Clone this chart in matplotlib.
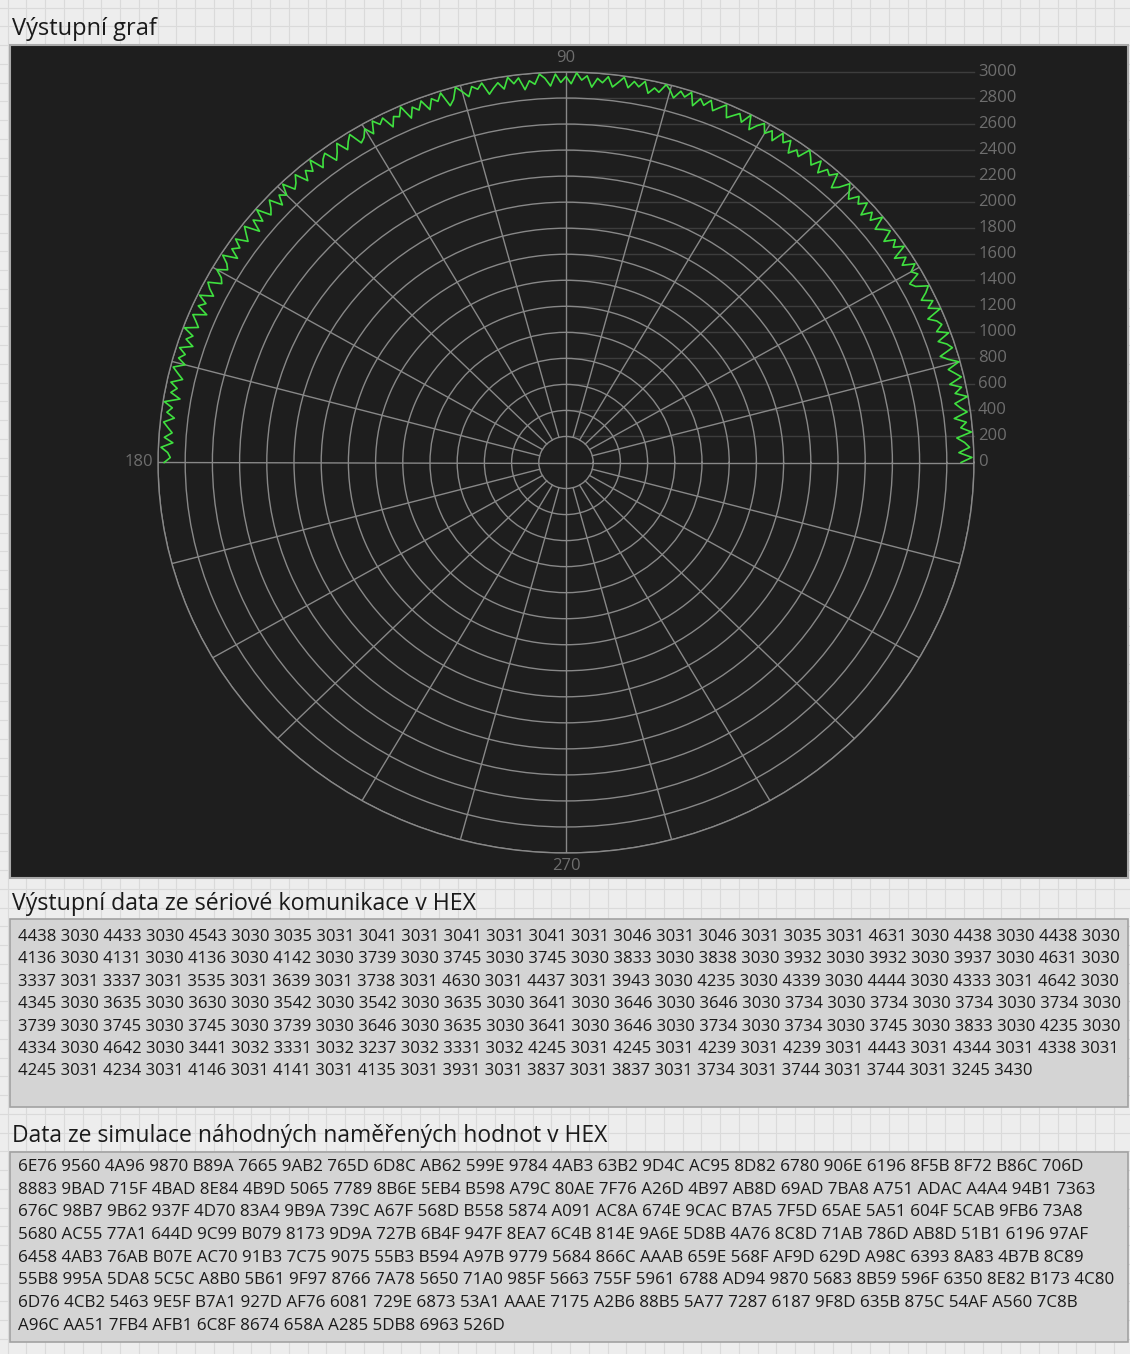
import numpy as np
import matplotlib
matplotlib.use("Agg")
import matplotlib.pyplot as plt
from matplotlib.patches import Rectangle

W, H = 1130, 1354

# ---------------- data ----------------
angle_step_deg = 0.75
radius_values = [
    2905, 2985, 2890, 2970, 2935, 2880, 2990, 2915, 2960, 2875, 2975, 2930, 2895, 2995, 2910, 2965, 2885, 2980, 2940, 2900,
    2990, 2920, 2870, 2975, 2945, 2890, 2985, 2905, 2960, 2935, 2880, 2995, 2915, 2970, 2895, 2950, 2990, 2905, 2875, 2965,
    2930, 2985, 2900, 2955, 2880, 2990, 2920, 2965, 2890, 2975, 2940, 2895, 2995, 2910, 2960, 2885, 2980, 2925, 2970, 2900,
    2945, 2990, 2915, 2875, 2985, 2935, 2960, 2895, 2980, 2910, 2955, 2995, 2905, 2940, 2885, 2975, 2930, 2990, 2900, 2965,
    2920, 2985, 2945, 2890, 2995, 2915, 2970, 2935, 2900, 2990, 2950, 2910, 2980, 2925, 2965, 2895, 2990, 2940, 2975, 2910,
    2960, 2995, 2925, 2950, 2900, 2985, 2935, 2970, 2915, 2990, 2945, 2905, 2980, 2930, 2960, 2890, 2975, 2940, 2995, 2910,
    2965, 2920, 2985, 2895, 2955, 2990, 2915, 2945, 2880, 2975, 2935, 2990, 2905, 2960, 2925, 2885, 2980, 2940, 2970, 2900,
    2950, 2995, 2910, 2870, 2985, 2930, 2965, 2890, 2975, 2915, 2955, 2880, 2990, 2925, 2945, 2875, 2970, 2935, 2985, 2895,
    2960, 2905, 2880, 2980, 2940, 2890, 2975, 2915, 2870, 2965, 2935, 2885, 2990, 2910, 2950, 2880, 2975, 2925, 2895, 2985,
    2905, 2945, 2875, 2970, 2920, 2885, 2990, 2900, 2960, 2870, 2980, 2935, 2890, 2975, 2910, 2955, 2880, 2985, 2925, 2895,
    2965, 2905, 2880, 2975, 2940, 2890, 2985, 2915, 2960, 2875, 2970, 2930, 2895, 2990, 2910, 2950, 2885, 2975, 2920, 2960,
    2900, 2980, 2935, 2890, 2970, 2915, 2955, 2880, 2990, 2925, 2960, 2900, 2975, 2940, 2905, 2960, 2895, 2980, 2930, 2910,
    2955,
]
radial_ticks = list(range(0, 3001, 200))
r_max = 3000
spoke_step = 15
angle_labels = ["90", "180", "270"]

titles = [
    "Výstupní graf",
    "Výstupní data ze sériové komunikace v HEX",
    "Data ze simulace náhodných naměřených hodnot v HEX",
]

serial_rows = [
    "4438 3030 4433 3030 4543 3030 3035 3031 3041 3031 3041 3031 3041 3031 3046 3031 3046 3031 3035 3031 4631 3030 4438 3030 4438 3030",
    "4136 3030 4131 3030 4136 3030 4142 3030 3739 3030 3745 3030 3745 3030 3833 3030 3838 3030 3932 3030 3932 3030 3937 3030 4631 3030",
    "3337 3031 3337 3031 3535 3031 3639 3031 3738 3031 4630 3031 4437 3031 3943 3030 4235 3030 4339 3030 4444 3030 4333 3031 4642 3030",
    "4345 3030 3635 3030 3630 3030 3542 3030 3542 3030 3635 3030 3641 3030 3646 3030 3646 3030 3734 3030 3734 3030 3734 3030 3734 3030",
    "3739 3030 3745 3030 3745 3030 3739 3030 3646 3030 3635 3030 3641 3030 3646 3030 3734 3030 3734 3030 3745 3030 3833 3030 4235 3030",
    "4334 3030 4642 3030 3441 3032 3331 3032 3237 3032 3331 3032 4245 3031 4245 3031 4239 3031 4239 3031 4443 3031 4344 3031 4338 3031",
    "4245 3031 4234 3031 4146 3031 4141 3031 4135 3031 3931 3031 3837 3031 3837 3031 3734 3031 3744 3031 3744 3031 3245 3430",
]

sim_rows = [
    "6E76 9560 4A96 9870 B89A 7665 9AB2 765D 6D8C AB62 599E 9784 4AB3 63B2 9D4C AC95 8D82 6780 906E 6196 8F5B 8F72 B86C 706D",
    "8883 9BAD 715F 4BAD 8E84 4B9D 5065 7789 8B6E 5EB4 B598 A79C 80AE 7F76 A26D 4B97 AB8D 69AD 7BA8 A751 ADAC A4A4 94B1 7363",
    "676C 98B7 9B62 937F 4D70 83A4 9B9A 739C A67F 568D B558 5874 A091 AC8A 674E 9CAC B7A5 7F5D 65AE 5A51 604F 5CAB 9FB6 73A8",
    "5680 AC55 77A1 644D 9C99 B079 8173 9D9A 727B 6B4F 947F 8EA7 6C4B 814E 9A6E 5D8B 4A76 8C8D 71AB 786D AB8D 51B1 6196 97AF",
    "6458 4AB3 76AB B07E AC70 91B3 7C75 9075 55B3 B594 A97B 9779 5684 866C AAAB 659E 568F AF9D 629D A98C 6393 8A83 4B7B 8C89",
    "55B8 995A 5DA8 5C5C A8B0 5B61 9F97 8766 7A78 5650 71A0 985F 5663 755F 5961 6788 AD94 9870 5683 8B59 596F 6350 8E82 B173 4C80",
    "6D76 4CB2 5463 9E5F B7A1 927D AF76 6081 729E 6873 53A1 AAAE 7175 A2B6 88B5 5A77 7287 6187 9F8D 635B 875C 54AF A560 7C8B",
    "A96C AA51 7FB4 AFB1 6C8F 8674 658A A285 5DB8 6963 526D",
]

# ---------------- figure ----------------
FONT = ["Open Sans", "DejaVu Sans"]
fig = plt.figure(figsize=(W / 100, H / 100), dpi=100)
fig.patch.set_facecolor("#ededed")
renderer = fig.canvas.get_renderer()

bg = fig.add_axes([0, 0, 1, 1])
bg.set_xlim(0, W)
bg.set_ylim(H, 0)
bg.axis("off")
for gx in np.arange(7.5, W, 18.75):
    bg.plot([gx, gx], [0, H], color="#dadada", lw=0.8, zorder=0)
for gy in np.arange(7.5, H, 18.75):
    bg.plot([0, W], [gy, gy], color="#dadada", lw=0.8, zorder=0)

# panels
bg.add_patch(Rectangle((10, 45), 1118, 833, fc="#1e1e1e", ec="#a9a9a9", lw=1.5, zorder=2))
bg.add_patch(Rectangle((10, 919), 1118, 188, fc="#d4d4d4", ec="#a2a2a2", lw=1.2, zorder=2))
bg.add_patch(Rectangle((10, 1152), 1118, 190, fc="#d4d4d4", ec="#a2a2a2", lw=1.2, zorder=2))


def fit(t, target_w):
    bb = t.get_window_extent(renderer)
    t.set_fontsize(t.get_fontsize() * target_w / bb.width)
    return t.get_fontsize()


# titles
title_pos = [(12, 29, 145), (12, 904, 466), (12, 1136, 599)]
for s, (x, y, tw) in zip(titles, title_pos):
    t = bg.text(x, y, s, fontsize=14, family=FONT, color="#1a1a1a",
                ha="left", va="center", zorder=3)
    fit(t, tw)

# text boxes
def box_text(rows, y0, dy, ref_idx, ref_w):
    ts = []
    for i, s in enumerate(rows):
        ts.append(bg.text(18, y0 + i * dy, s, fontsize=11, family=FONT,
                          color="#1a1a1a", ha="left", va="center", zorder=3))
    fs = fit(ts[ref_idx], ref_w)
    for t in ts:
        t.set_fontsize(fs)

box_text(serial_rows, 937, 22.4, 0, 1090)
box_text(sim_rows, 1167, 22.7, 5, 1090)

# ---------------- polar graph ----------------
left, right, top, bottom = 158, 974, 72, 853
ax = fig.add_axes([left / W, 1 - bottom / H, (right - left) / W, (bottom - top) / H],
                  projection="polar")
ax.set_aspect("auto")
ax.set_facecolor("none")
ring_c = "#888888"

# horizontal guide lines from the ring tops to the scale labels
for r in radial_ticks[1:]:
    yf = 0.5 + 0.5 * r / r_max
    ax.plot([0.5, 1.0], [yf, yf], transform=ax.transAxes, clip_on=False,
            color="#3d3d3d", lw=1, zorder=0.5)

# spokes
for a in range(0, 360, spoke_step):
    r0 = 0 if a % 90 == 0 else radial_ticks[1]
    ax.plot([np.deg2rad(a)] * 2, [r0, r_max], color=ring_c, lw=1, zorder=1)

theta = np.deg2rad(np.arange(len(radius_values)) * angle_step_deg)
ax.plot(theta, radius_values, color="#3fe03f", lw=1.2, zorder=5)

ax.set_xlim(0, 2 * np.pi)
ax.set_ylim(0, r_max)
ax.set_yticks(radial_ticks[1:])
ax.set_yticklabels([])
ax.set_xticks([])
ax.yaxis.grid(True, color=ring_c, lw=1)
ax.spines["polar"].set_color(ring_c)
ax.spines["polar"].set_linewidth(1)
ax.tick_params(length=0)

lab_c = "#6e6e6e"
for r in radial_ticks:
    ax.text(1.005, 0.5 + 0.5 * r / r_max, str(r), transform=ax.transAxes,
            ha="left", va="center", fontsize=12, family=FONT, color=lab_c)
ax.text(0.5, 1.018, angle_labels[0], transform=ax.transAxes, ha="center", va="center",
        fontsize=12, family=FONT, color=lab_c)
ax.text(-0.006, 0.5, angle_labels[1], transform=ax.transAxes, ha="right", va="center",
        fontsize=12, family=FONT, color=lab_c)
ax.text(0.5, -0.017, angle_labels[2], transform=ax.transAxes, ha="center", va="center",
        fontsize=12, family=FONT, color=lab_c)

fig.savefig("out.png", dpi=100, facecolor=fig.get_facecolor())
